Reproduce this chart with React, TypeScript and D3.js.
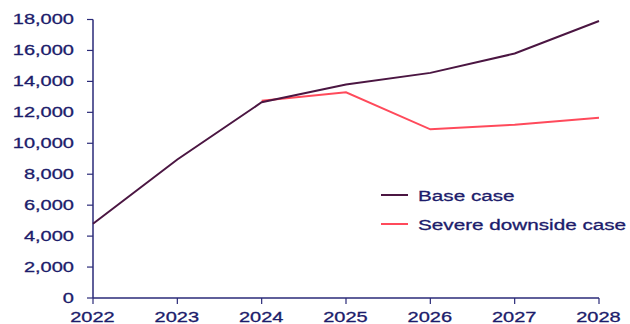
import React from "react";
import * as d3 from "d3";

const years = [2022, 2023, 2024, 2025, 2026, 2027, 2028];
const baseCase = [4800, 8950, 12650, 13800, 14550, 15800, 17900];
const severeYears = [2024, 2025, 2026, 2027, 2028];
const severeCase = [12750, 13300, 10900, 11200, 11650];
const yTicks = [0, 2000, 4000, 6000, 8000, 10000, 12000, 14000, 16000, 18000];
const seriesNames = ["Base case", "Severe downside case"];

const W = 630, H = 324;
const left = 93, right = 599, top = 19.5, bottom = 298;
const axisColor = "#2a2a78";
const textColor = "#1c1c6b";
const colors = ["#4b1642", "#ff4a5b"];
const font = "'Liberation Sans', Arial, sans-serif";
const SX = 1.38;

function T({ x, y, anchor, size, children }: { x: number; y: number; anchor: string; size: number; children: React.ReactNode }) {
  return (
    <text
      transform={`translate(${x},${y}) scale(${SX},1)`}
      textAnchor={anchor}
      fontSize={size}
      fill={textColor}
      stroke={textColor}
      strokeWidth={0.3}
    >
      {children}
    </text>
  );
}

export default function App() {
  const x = d3.scaleLinear().domain([2022, 2028]).range([left, right]);
  const y = d3.scaleLinear().domain([0, 18000]).range([bottom, top]);
  const line = d3.line<[number, number]>().x(d => x(d[0])).y(d => y(d[1]));
  const baseData: [number, number][] = years.map((yr, i) => [yr, baseCase[i]]);
  const sevData: [number, number][] = severeYears.map((yr, i) => [yr, severeCase[i]]);
  const fmt = d3.format(",");
  return (
    <svg width={W} height={H} style={{ position: "absolute", left: 0, top: 0 }} fontFamily={font}>
      <rect width={W} height={H} fill="#fff" />
      <line x1={left} x2={left} y1={top} y2={bottom} stroke={axisColor} strokeWidth={1.5} />
      <line x1={left} x2={right} y1={bottom} y2={bottom} stroke={axisColor} strokeWidth={1.5} />
      {yTicks.map(t => (
        <g key={t}>
          <line x1={left - 6} x2={left} y1={y(t)} y2={y(t)} stroke={axisColor} strokeWidth={1.2} />
          <T x={74} y={y(t) + 4.5} anchor="end" size={14.5}>{fmt(t)}</T>
        </g>
      ))}
      {years.map(yr => (
        <g key={yr}>
          <line x1={x(yr)} x2={x(yr)} y1={bottom} y2={bottom + 6} stroke={axisColor} strokeWidth={1.2} />
          <T x={x(yr) - 0.5} y={322} anchor="middle" size={14.5}>{yr}</T>
        </g>
      ))}
      <path d={line(sevData) || ""} fill="none" stroke={colors[1]} strokeWidth={2} />
      <path d={line(baseData) || ""} fill="none" stroke={colors[0]} strokeWidth={2} />
      {seriesNames.map((n, i) => (
        <g key={n}>
          <line x1={381} x2={408} y1={195 + i * 29} y2={195 + i * 29} stroke={colors[i]} strokeWidth={2} />
          <T x={418} y={195 + i * 29 + 5.5} anchor="start" size={15}>{n}</T>
        </g>
      ))}
    </svg>
  );
}
